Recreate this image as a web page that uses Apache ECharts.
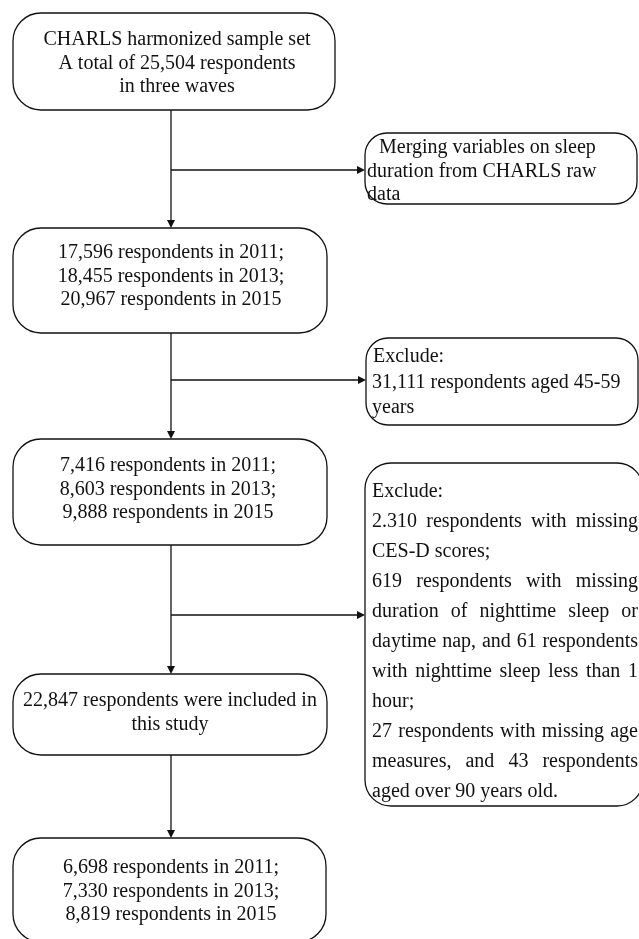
<!DOCTYPE html>
<html>
<head>
<meta charset="utf-8">
<script src="https://cdn.jsdelivr.net/npm/echarts@6/dist/echarts.min.js"></script>
<style>html,body{margin:0;padding:0;background:#fff}#c{width:639px;height:939px}</style>
</head>
<body>
<div id="c"></div>
<script>
// ---- content ----
const mainBoxTexts = [
  ["CHARLS harmonized sample set", "A total of 25,504 respondents", "in three waves"],
  ["17,596 respondents in 2011;", "18,455 respondents in 2013;", "20,967 respondents in 2015"],
  ["7,416 respondents in 2011;", "8,603 respondents in 2013;", "9,888 respondents in 2015"],
  ["22,847 respondents were included in", "this study"],
  ["6,698 respondents in 2011;", "7,330 respondents in 2013;", "8,819 respondents in 2015"]
];
const sideBoxTexts = [
  ["Merging variables on sleep", "duration from CHARLS raw", "data"],
  ["Exclude:", "31,111 respondents aged 45-59", "years"],
  ["Exclude:", "2.310 respondents with missing", "CES-D scores;", "619 respondents with missing",
   "duration of nighttime sleep or", "daytime nap, and 61 respondents", "with nighttime sleep less than 1",
   "hour;", "27 respondents with missing age", "measures, and 43 respondents", "aged over 90 years old."]
];
const sideJustified = [
  [false, false, false],
  [false, false, false],
  [false, true, false, true, true, true, true, false, true, true, false]
];

// ---- layout (canvas units on hidden axes) ----
const mainLayout = [
  {x0: 13, y0: 13, x1: 335, y1: 110, cx: 177, ty: 40, lh: 23.5},
  {x0: 13, y0: 228, x1: 327, y1: 333, cx: 171, ty: 253, lh: 23.5},
  {x0: 13, y0: 439, x1: 327, y1: 545, cx: 168, ty: 466, lh: 23.5},
  {x0: 13, y0: 674, x1: 327, y1: 755, cx: 170, ty: 701, lh: 24},
  {x0: 13, y0: 838, x1: 326, y1: 942, cx: 171, ty: 868, lh: 23.5}
];
const sideLayout = [
  {x0: 365, y0: 133, x1: 637, y1: 204, r: 22, tx: 367, tx0: 379, tx1: 603, ty: 148, lh: 23.5},
  {x0: 366, y0: 338, x1: 638, y1: 425, r: 22, tx: 372, tx0: 373, tx1: 636, ty: 357, lh: 25.5},
  {x0: 365, y0: 463, x1: 643, y1: 806, r: 26, tx: 372, tx0: 372, tx1: 638, ty: 492, lh: 30}
];
const connectors = [
  [[171, 110], [171, 228]],
  [[171, 170], [365, 170]],
  [[171, 333], [171, 439]],
  [[171, 380], [366, 380]],
  [[171, 545], [171, 674]],
  [[171, 615], [365, 615]],
  [[171, 755], [171, 838]]
];

const FONT = '20px "Liberation Serif", "Times New Roman", serif';
const INK = '#111';
const measureCtx = document.createElement('canvas').getContext('2d');
measureCtx.font = FONT;
function tw(s) { return measureCtx.measureText(s).width; }

function textEl(str, x, y, align) {
  return {type: 'text', style: {text: str, x: x, y: y, font: FONT, fill: INK,
    align: align, verticalAlign: 'middle', textAlign: align, textVerticalAlign: 'middle'}};
}

function rectEl(api, L, r) {
  const p0 = api.coord([L.x0, L.y0]);
  const p1 = api.coord([L.x1, L.y1]);
  return {type: 'rect', shape: {x: p0[0], y: p0[1], width: p1[0] - p0[0], height: p1[1] - p0[1], r: r},
    style: {fill: '#fff', stroke: INK, lineWidth: 1.3}};
}

function renderMain(params, api) {
  const i = api.value(0);
  const L = mainLayout[i];
  const children = [rectEl(api, L, 28)];
  mainBoxTexts[i].forEach(function (line, k) {
    const p = api.coord([L.cx, L.ty + k * L.lh]);
    children.push(textEl(line, p[0], p[1], 'center'));
  });
  return {type: 'group', children: children};
}

function renderSide(params, api) {
  const i = api.value(0);
  const L = sideLayout[i];
  const children = [rectEl(api, L, L.r)];
  sideBoxTexts[i].forEach(function (line, k) {
    const yy = L.ty + k * L.lh;
    const startX = k === 0 ? L.tx0 : L.tx;
    if (sideJustified[i][k]) {
      const words = line.split(' ');
      const pa = api.coord([L.tx, yy]);
      const pb = api.coord([L.tx1, yy]);
      const total = words.reduce(function (s, w) { return s + tw(w); }, 0);
      const gap = (pb[0] - pa[0] - total) / (words.length - 1);
      let x = pa[0];
      words.forEach(function (w) {
        children.push(textEl(w, x, pa[1], 'left'));
        x += tw(w) + gap;
      });
    } else {
      const p = api.coord([startX, yy]);
      children.push(textEl(line, p[0], p[1], 'left'));
    }
  });
  return {type: 'group', children: children};
}

function renderConn(params, api) {
  const i = api.value(0);
  const c = connectors[i];
  const a = api.coord(c[0]);
  const b = api.coord(c[1]);
  const dx = b[0] - a[0], dy = b[1] - a[1];
  const len = Math.sqrt(dx * dx + dy * dy);
  const ux = dx / len, uy = dy / len;
  const al = 8, aw = 4;
  const bx = b[0] - ux * al, by = b[1] - uy * al;
  return {type: 'group', children: [
    {type: 'line', shape: {x1: a[0], y1: a[1], x2: bx, y2: by}, style: {stroke: INK, lineWidth: 1.3}},
    {type: 'polygon', shape: {points: [[b[0], b[1]], [bx - uy * aw, by + ux * aw], [bx + uy * aw, by - ux * aw]]},
      style: {fill: INK}}
  ]};
}

const chart = echarts.init(document.getElementById('c'), null, {renderer: 'canvas'});
chart.setOption({
  animation: false,
  backgroundColor: '#fff',
  grid: {left: 0, right: 0, top: 0, bottom: 0},
  xAxis: {type: 'value', min: 0, max: 639, show: false},
  yAxis: {type: 'value', min: 0, max: 939, inverse: true, show: false},
  series: [
    {type: 'custom', name: 'connectors', renderItem: renderConn, clip: false, silent: true,
      data: connectors.map(function (_, i) { return [i, 0]; })},
    {type: 'custom', name: 'main', renderItem: renderMain, clip: false, silent: true,
      data: mainBoxTexts.map(function (_, i) { return [i, 0]; })},
    {type: 'custom', name: 'side', renderItem: renderSide, clip: false, silent: true,
      data: sideBoxTexts.map(function (_, i) { return [i, 0]; })}
  ]
});
</script>
</body>
</html>
